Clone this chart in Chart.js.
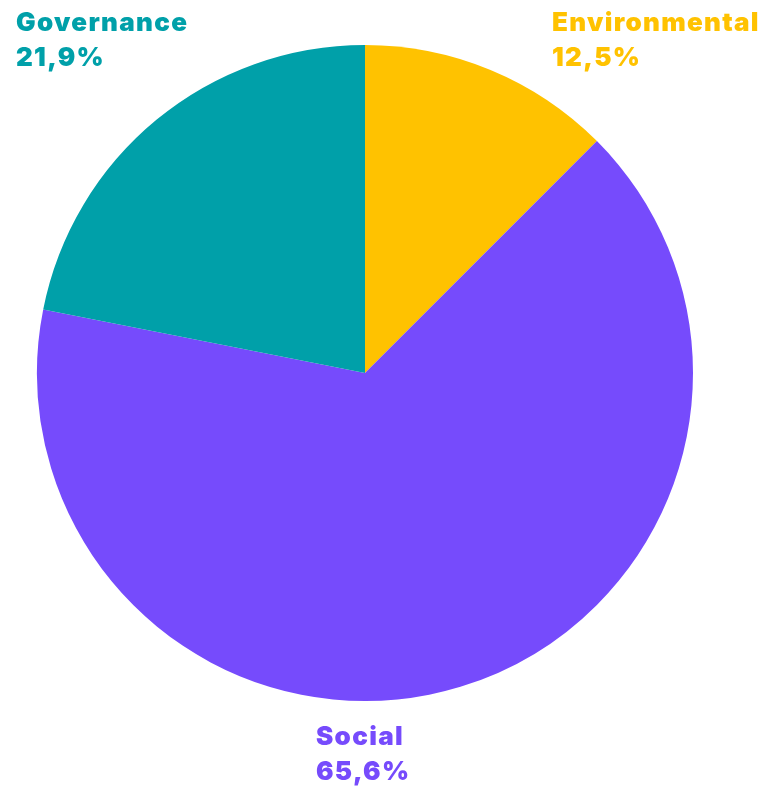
<!DOCTYPE html>
<html lang="en">
<head>
    <meta charset="UTF-8">
    <title>ESG breakdown</title>
    <style>
        html, body { margin: 0; padding: 0; background: #ffffff; }
        #wrap { width: 768px; height: 786px; position: relative; }
    </style>
</head>
<body>
    <div id="wrap"><canvas id="esgPie"></canvas></div>

    <script src="https://cdn.jsdelivr.net/npm/chart.js"></script>
    <script>
        const categories = ['Environmental', 'Social', 'Governance'];
        const shares = [12.5, 65.6, 21.9];
        const shareLabels = ['12,5%', '65,6%', '21,9%'];
        const colours = ['#FFC200', '#764BFC', '#00A0A9'];

        // labels sit around the pie: name on top, percentage below
        const labelSpots = [
            { x: 552, y: 31, align: 'left' },
            { x: 316, y: 745, align: 'left' },
            { x: 16, y: 31, align: 'left' }
        ];

        const outsideLabels = {
            id: 'outsideLabels',
            afterDraw(chart) {
                const ctx = chart.ctx;
                ctx.save();
                ctx.font = '900 26px Inter, "Noto Sans", sans-serif';
                ctx.letterSpacing = '1.3px';
                ctx.textBaseline = 'alphabetic';
                categories.forEach((name, i) => {
                    const s = labelSpots[i];
                    ctx.fillStyle = colours[i];
                    ctx.textAlign = s.align;
                    ctx.fillText(name, s.x, s.y);
                    ctx.fillText(shareLabels[i], s.x, s.y + 35);
                });
                ctx.restore();
            }
        };

        new Chart(document.getElementById('esgPie'), {
            type: 'pie',
            data: {
                labels: categories,
                datasets: [{
                    data: shares,
                    backgroundColor: colours,
                    borderWidth: 0
                }]
            },
            options: {
                responsive: true,
                maintainAspectRatio: false,
                animation: false,
                layout: { padding: { top: 45, bottom: 85, left: 37, right: 75 } },
                plugins: {
                    legend: { display: false },
                    tooltip: { enabled: false }
                }
            },
            plugins: [outsideLabels]
        });
    </script>
</body>
</html>
